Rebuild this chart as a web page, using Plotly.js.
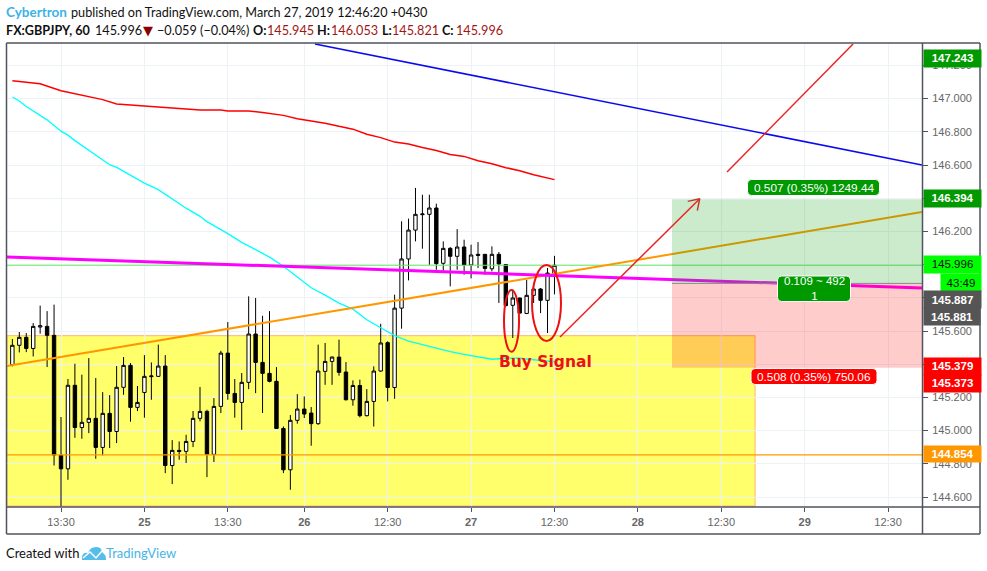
<!DOCTYPE html>
<html><head><meta charset="utf-8">
<script src="https://cdn.plot.ly/plotly-3.0.1.min.js"></script>
<style>html,body{margin:0;padding:0;background:#fff}#c{width:987px;height:571px}</style>
</head><body><div id="c"></div>
<script>
// ---------- candles (bar -7 ... 71) ----------
const firstBar = -7;
const candOpen = [145.397,145.514,145.562,145.495,145.624,145.628,145.574,144.851,144.770,145.273,145.019,145.050,145.074,144.899,145.104,144.995,145.261,145.393,145.140,145.230,145.325,145.327,145.389,144.790,144.881,144.875,144.935,145.074,145.116,144.857,145.146,145.467,145.224,145.170,145.291,145.582,145.411,145.345,145.297,145.013,144.764,145.062,145.130,145.106,145.042,145.357,145.417,145.443,145.353,145.186,145.272,145.090,145.176,145.359,145.530,145.260,145.738,146.034,146.208,146.301,146.303,146.341,146.008,146.098,146.050,146.106,145.998,146.062,146.062,145.975,146.062,146.000,145.755,145.799,145.706,145.815,145.853,145.785,145.945];
const candHigh = [145.552,145.594,145.588,145.648,145.753,145.720,145.759,145.082,145.311,145.403,145.337,145.437,145.317,145.232,145.214,145.389,145.443,145.407,145.269,145.455,145.411,145.518,145.455,144.943,144.935,144.975,145.118,145.263,145.126,145.196,145.481,145.654,145.311,145.347,145.809,145.799,145.692,145.720,145.383,145.025,145.094,145.220,145.206,145.142,145.518,145.528,145.447,145.548,145.413,145.303,145.307,145.250,145.387,145.644,145.538,145.819,146.261,146.277,146.462,146.421,146.421,146.367,146.140,146.106,146.214,146.150,146.120,146.136,146.064,146.110,146.076,146.004,145.849,145.801,145.909,145.879,145.859,145.980,146.053];
const candLow = [145.387,145.471,145.473,145.447,145.584,145.383,144.790,144.543,144.704,144.957,144.951,144.985,144.831,144.851,144.895,144.925,145.216,145.054,145.118,145.078,145.186,145.323,144.744,144.678,144.825,144.805,144.901,145.056,144.720,144.811,145.106,145.186,145.078,145.005,145.250,145.226,145.106,145.291,145.013,144.744,144.644,145.042,145.076,144.909,145.035,145.276,145.276,145.331,145.182,145.150,145.080,145.086,145.025,145.355,145.176,145.192,145.614,145.905,146.140,146.096,145.999,145.969,145.963,145.869,145.969,145.939,145.917,145.979,145.939,145.959,145.769,145.749,145.558,145.706,145.702,145.769,145.708,145.588,145.821];
const candClose = [145.514,145.562,145.495,145.628,145.632,145.574,144.853,144.770,145.273,145.019,145.050,145.074,144.899,145.104,144.995,145.261,145.393,145.140,145.170,145.327,145.329,145.389,144.790,144.881,144.875,144.935,145.074,145.116,144.857,145.146,145.467,145.224,145.170,145.291,145.582,145.411,145.345,145.297,145.013,144.764,145.062,145.130,145.100,145.042,145.359,145.417,145.443,145.351,145.186,145.272,145.090,145.176,145.359,145.528,145.260,145.738,146.034,146.208,146.303,146.305,146.341,146.006,146.098,146.050,146.106,145.998,146.058,146.056,145.977,146.062,146.004,145.753,145.799,145.708,145.815,145.853,145.785,145.949,145.996];

// ---------- moving averages ----------
const redBars = [-7,-5,-3,0,2,4,6,8,10,12,16,20,23,24,27,29,32,34,36,38,40,42,44,46,48,50,52,54,56,58,60,62,64,66,68,70,71];
const redVals = [147.108,147.099,147.089,147.048,147.030,147.009,146.994,146.968,146.963,146.955,146.944,146.932,146.931,146.926,146.926,146.917,146.899,146.879,146.867,146.852,146.833,146.816,146.785,146.765,146.738,146.726,146.705,146.687,146.663,146.652,146.626,146.608,146.584,146.566,146.542,146.521,146.512];
const cyanBars = [-7,-6,-5,-3,-2,0,1,2,3,5,7,8,10,12,14,16,18,20,21,24,26,28,30,32,34,36,38,40,42,44,46,48,50,52,54,56,58,60,62,64,66,68,70,71];
const cyanVals = [147.010,146.986,146.952,146.898,146.872,146.804,146.780,146.747,146.718,146.660,146.602,146.586,146.539,146.491,146.452,146.394,146.340,146.291,146.259,146.187,146.134,146.090,146.045,145.990,145.927,145.861,145.816,145.768,145.732,145.668,145.620,145.572,145.539,145.518,145.494,145.476,145.460,145.445,145.430,145.436,145.436,145.427,145.418,145.415];

// ---------- levels ----------
const lastPrice = 145.996, alertLevel = 144.854;
const targetPrice = 146.394, entryPrice = 145.887, stopPrice = 145.379;
const yellowTop = 145.572, yellowBottom = 144.546, yellowEnd = 99.86;
const zoneStart = 87.91;

// ---------- axes ----------
const xRange = [-7.77, 123.88], yRange = [144.54, 147.335];
const xTickVals = [0,12,24,35,47,59,71,83,95,107,119];
const xTickText = ['13:30','<b>25</b>','13:30','<b>26</b>','12:30','<b>27</b>','12:30','<b>28</b>','12:30','<b>29</b>','12:30'];
const yTickVals = [144.6,144.8,145.0,145.2,145.4,145.6,145.8,146.0,146.2,146.4,146.6,146.8,147.0,147.2];
const yTickText = ['144.600','144.800','145.000','145.200','','145.600','','','146.200','','146.600','146.800','147.000','147.200'];

// ---------- page geometry ----------
const W = 987, H = 571, L = 7, R = 922, T = 43, B = 507;
const fx = x => (x - L) / (R - L), fy = y => (B - y) / (B - T);

// candles
const bars = candOpen.map((_, k) => firstBar + k);
const traces = [
  {type:'scatter',mode:'lines',x:redBars,y:redVals,line:{color:'#ff0000',width:1.5},hoverinfo:'skip'},
  {type:'scatter',mode:'lines',x:cyanBars,y:cyanVals,line:{color:'#00ffff',width:1.3},hoverinfo:'skip'},
  {type:'candlestick',x:bars,open:candOpen,high:candHigh,low:candLow,close:candClose,width:0.72,whiskerwidth:0,
   increasing:{line:{color:'#000',width:1},fillcolor:'#ffffff'},
   decreasing:{line:{color:'#000',width:1},fillcolor:'#000000'},hoverinfo:'skip'}
];

function seg(x0,y0,x1,y1,color,width,extra){
  return Object.assign({type:'line',xref:'x',yref:'y',x0,y0,x1,y1,line:{color,width},layer:'above'},extra||{});
}
function frame(x0,y0,x1,y1){
  return {type:'line',xref:'paper',yref:'paper',x0:fx(x0),y0:fy(y0),x1:fx(x1),y1:fy(y1),line:{color:'#50535e',width:1.5},layer:'above'};
}
function pill(x0,y0,x1,y1,r,color){
  const a=fx(x0),b=fx(x1),c=fy(y0),d=fy(y1),rx=r/(R-L),ry=r/(B-T);
  return {type:'path',xref:'paper',yref:'paper',layer:'above',fillcolor:color,line:{color:'#ffffff',width:1},
    path:`M${a+rx},${c} L${b-rx},${c} Q${b},${c} ${b},${c-ry} L${b},${d+ry} Q${b},${d} ${b-rx},${d} L${a+rx},${d} Q${a},${d} ${a},${d+ry} L${a},${c-ry} Q${a},${c} ${a+rx},${c} Z`};
}
const shapes = [
  {type:'rect',xref:'x',yref:'y',x0:xRange[0],x1:yellowEnd,y0:yellowBottom,y1:yellowTop,fillcolor:'rgba(255,255,0,0.58)',line:{color:'#ffb56b',width:1},layer:'below'},
  seg(xRange[0],lastPrice,xRange[1],lastPrice,'#66ee66',1),
  seg(xRange[0],alertLevel,xRange[1],alertLevel,'#ff9800',1.2),
  seg(36.55,147.329,123.88,146.6,'#0a0aee',1.6),
  seg(-7.77,145.389,123.88,146.317,'#ff9800',2),
  seg(-7.77,146.046,123.88,145.859,'#ff00ff',3),
  {type:'rect',xref:'x',yref:'y',x0:zoneStart,x1:xRange[1],y0:entryPrice,y1:targetPrice,fillcolor:'rgba(0,153,0,0.2)',line:{width:0},layer:'above'},
  {type:'rect',xref:'x',yref:'y',x0:zoneStart,x1:xRange[1],y0:stopPrice,y1:entryPrice,fillcolor:'rgba(255,0,0,0.2)',line:{width:0},layer:'above'},
  seg(zoneStart,entryPrice,xRange[1],entryPrice,'#888888',1),
  seg(71.8,145.564,91.9,146.397,'#ee2222',1.5),
  seg(90.17,146.381,91.9,146.397,'#c0392b',1.5),
  seg(91.55,146.325,91.9,146.397,'#c0392b',1.5),
  seg(95.83,146.558,113.96,147.329,'#ee2222',1.5),
  {type:'circle',xref:'x',yref:'y',x0:63.74,x1:65.9,y0:145.475,y1:145.847,line:{color:'#ee1111',width:2},layer:'above'},
  {type:'circle',xref:'x',yref:'y',x0:67.77,x1:71.94,y0:145.54,y1:145.998,line:{color:'#ee1111',width:2},layer:'above'},
  frame(6.5,43,980,43), frame(6.5,534,980,534), frame(6.5,43,6.5,534), frame(980,43,980,534), frame(922.5,43,922.5,534), frame(6.5,507,980,507),
  pill(747.5,179.5,879.5,195.5,4,'#009900'),
  pill(777.5,276,850.5,301.5,4,'#009900'),
  pill(751,368.5,877,384.5,4,'#ff0000'),
  {type:'path',xref:'paper',yref:'paper',fillcolor:'#55bde9',line:{width:0},layer:'above',
   path:`M${fx(82)},${fy(560)} L${fx(82)},${fy(557)} Q${fx(83)},${fy(552)} ${fx(88)},${fy(553)} Q${fx(90)},${fy(547)} ${fx(96)},${fy(547)} Q${fx(101)},${fy(547)} ${fx(102)},${fy(551)} Q${fx(106)},${fy(553)} ${fx(106)},${fy(560)} Z`},
  {type:'path',xref:'paper',yref:'paper',line:{color:'#ffffff',width:1.4},layer:'above',
   path:`M${fx(83)},${fy(558)} L${fx(90)},${fy(552)} L${fx(96)},${fy(558)} L${fx(102)},${fy(551)} L${fx(106)},${fy(555)}`}
];

const HF = 'Lato, "Noto Sans", sans-serif', AF = '"Liberation Sans", Arial, sans-serif';
function txt(x,y,text,color,size,bold,font){
  return {xref:'paper',yref:'paper',x:fx(x-2),y:fy(y),xanchor:'left',yanchor:'middle',showarrow:false,
    text: bold?`<b>${text}</b>`:text,font:{family:font||HF,size:size||13,color:color||'#111'}};
}
function lab(x,y,text,size){
  return {xref:'paper',yref:'paper',x:fx(x),y:fy(y),xanchor:'center',yanchor:'middle',showarrow:false,text,font:{family:AF,size,color:'#fff'}};
}
function tag(x0,x1,y0,y1,text,bg,color,bold){
  return {xref:'paper',yref:'paper',x:fx(x0),y:fy((y0+y1)/2),xanchor:'left',yanchor:'middle',showarrow:false,
    width:x1-x0,height:y1-y0,bgcolor:bg,borderpad:0,align:'center',valign:'middle',
    text:bold?`<b>${text}</b>`:text,font:{family:AF,size:11.5,color}};
}
const darkRed = '#a31515';
const annotations = [
  txt(6,12.5,'Cybertron','#3bb3e4',13.5,true),
  txt(71,12.5,'published on TradingView.com, March 27, 2019 12:46:20 +0430','#111',12.65),
  txt(6,30,'FX:GBPJPY, 60','#111',12.6,true),
  txt(95,30,'145.996','#111',12.7),
  txt(143,30,'▼','#8b0000',13,false,'"DejaVu Sans"'),
  txt(157,30,'−0.059 (−0.04%)','#111',12.7),
  txt(253,30,'O:','#111',12.6,true), txt(267,30,'145.945',darkRed,12.7),
  txt(317,30,'H:','#111',12.6,true), txt(331,30,'146.053',darkRed,12.7),
  txt(382,30,'L:','#111',12.6,true), txt(392,30,'145.821',darkRed,12.7),
  txt(442,30,'C:','#111',12.6,true), txt(456,30,'145.996',darkRed,12.7),
  txt(6,553,'Created with','#111',13),
  txt(106,553,'TradingView','#46b4e7',13),
  txt(499,362,'Buy Signal','#ee1111',15.5,true,'"DejaVu Sans"'),
  lab(813.5,187.5,'0.507 (0.35%) 1249.44',11.8),
  lab(814,288.8,'0.109 ~ 492<br>1',11.5),
  lab(814,376.5,'0.508 (0.35%) 750.06',11.8),
  tag(923,980,50,66.7,'147.243','#009900','#fff',true),
  tag(923,980,190.5,207,'146.394','#009900','#fff',true),
  tag(923,980,256.5,273,'145.996','#00ff00','#111',false),
  tag(940,980,274,291,'43:49','#00ff00','#111',false),
  tag(923,980,291,308,'145.887','#555555','#fff',true),
  tag(923,979,308,325,'145.881','#555555','#fff',true),
  tag(923,980,358.5,375,'145.379','#ff0000','#fff',true),
  tag(923,980,375.5,392,'145.373','#ff0000','#fff',true),
  tag(923,980,445.7,462,'144.854','#ff9800','#fff',true)
];

const layout = {
  width:W,height:H,showlegend:false,paper_bgcolor:'#fff',plot_bgcolor:'#fff',
  margin:{l:L,r:W-R,t:T,b:H-B,pad:0},
  xaxis:{type:'linear',range:xRange,rangeslider:{visible:false},tickmode:'array',tickvals:xTickVals,ticktext:xTickText,
    ticks:'outside',ticklen:4,tickcolor:'#50535e',tickfont:{family:AF,size:11,color:'#666'},ticklabelstandoff:1,
    showgrid:true,gridcolor:'#edf2f7',gridwidth:1,zeroline:false,showline:false},
  yaxis:{range:yRange,side:'right',tickmode:'array',tickvals:yTickVals,ticktext:yTickText,
    ticks:'outside',ticklen:5,tickcolor:'#50535e',tickfont:{family:AF,size:11,color:'#666'},ticklabelstandoff:2,
    showgrid:true,gridcolor:'#edf2f7',gridwidth:1,zeroline:false,showline:false},
  shapes,annotations,hovermode:false,dragmode:false
};
Plotly.newPlot('c',traces,layout,{staticPlot:true,displayModeBar:false});
</script>
</body></html>
